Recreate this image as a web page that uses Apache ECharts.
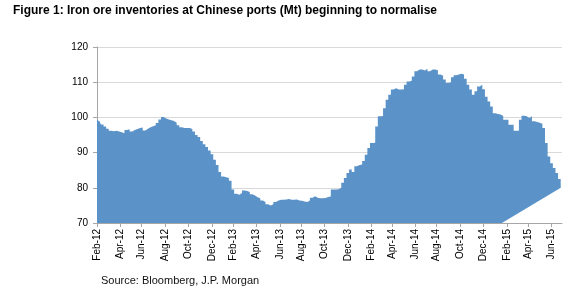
<!DOCTYPE html>
<html>
<head>
<meta charset="utf-8">
<script src="https://cdn.jsdelivr.net/npm/echarts@6/dist/echarts.min.js"></script>
<style>
  html, body { margin: 0; padding: 0; background: #fff; }
  #main { width: 580px; height: 298px; }
</style>
</head>
<body>
<div id="main"></div>
<script>
// weekly port inventory readings, first week of Feb 2012 onwards (Mt)
var startDate = new Date(2012, 1, 3);
var stocks = [
  99.3, 98.8, 98.0, 97.4, 96.8, 96.2, 96.1, 96.2, 96.0, 95.8,
  95.5, 96.4, 96.6, 96.0, 96.4, 96.7, 97.0, 97.1, 96.3, 96.8,
  97.2, 97.5, 97.8, 98.4, 99.4, 100.1, 99.7, 99.4, 99.2, 99.0,
  98.5, 97.8, 97.2, 97.0, 97.0, 97.0, 96.7, 96.0, 95.0, 94.4,
  93.3, 92.4, 91.6, 90.6, 89.5, 88.0, 86.5, 84.5, 83.2, 83.0,
  82.8, 82.0, 79.5, 78.3, 78.0, 78.5, 79.2, 79.1, 78.8, 78.2,
  77.8, 77.3, 77.0, 76.4, 76.0, 75.3, 75.0, 75.3, 76.0, 76.4,
  76.6, 76.6, 76.7, 76.8, 76.6, 76.6, 76.7, 76.4, 76.3, 76.1,
  76.0, 76.4, 77.2, 77.6, 77.2, 77.0, 77.0, 77.1, 77.4, 77.5,
  79.5, 79.5, 79.6, 80.0, 81.4, 82.8, 84.2, 85.2, 84.5, 86.1,
  86.5, 86.6, 87.6, 89.4, 91.3, 92.7, 92.8, 97.4, 100.3, 100.4,
  102.6, 105.0, 106.4, 107.9, 108.3, 107.9, 107.9, 108.0, 109.3, 110.2,
  110.4, 111.6, 113.1, 113.6, 113.6, 113.3, 113.8, 113.1, 113.6, 113.6,
  113.4, 112.2, 111.8, 110.8, 109.8, 110.0, 111.4, 112.0, 112.2, 112.4,
  112.2, 111.0, 109.3, 107.9, 106.4, 107.4, 108.8, 109.3, 108.0, 105.9,
  104.5, 103.1, 101.2, 101.0, 100.8, 100.4, 99.3, 99.3, 97.9, 97.9,
  96.2, 96.2, 99.3, 100.5, 100.3, 99.8, 100.3, 98.9, 98.7, 98.5,
  98.2, 97.0, 92.7, 88.9, 87.0, 85.6, 84.2, 82.5, 80.9
];
// white wedge in the bottom right corner of the original
var wedgeX = [155, 178];
var wedgeY = [70, 80.2];
var yTicks = [70, 80, 90, 100, 110, 120];

var months = ['Jan','Feb','Mar','Apr','May','Jun','Jul','Aug','Sep','Oct','Nov','Dec'];
var weeks = [];
var dates = [];
for (var i = 0; i < stocks.length; i++) {
  var d = new Date(startDate.getTime() + i * 7 * 86400000);
  dates.push(d);
  weeks.push(months[d.getMonth()] + '-' + String(d.getFullYear()).slice(2));
}
function isTick(index) {
  var d = dates[index];
  return d.getMonth() % 2 === 1 && d.getDate() <= 7;
}

var font = '"Liberation Sans", Arial, sans-serif';
var chart = echarts.init(document.getElementById('main'), null, { renderer: 'canvas' });
var option = {
  animation: false,
  backgroundColor: '#fff',
  title: [
    {
      text: 'Figure 1: Iron ore inventories at Chinese ports (Mt) beginning to normalise',
      left: 13, top: 5, padding: 0,
      textStyle: { fontFamily: font, fontSize: 12, fontWeight: 'bold', color: '#000' }
    },
    {
      text: 'Source: Bloomberg, J.P. Morgan',
      left: 101, top: 275, padding: 0,
      textStyle: { fontFamily: font, fontSize: 11, fontWeight: 'normal', color: '#111' }
    }
  ],
  grid: { left: 97, right: 18, top: 47, bottom: 75 },
  xAxis: {
    type: 'category',
    data: weeks,
    boundaryGap: false,
    axisLine: { lineStyle: { color: '#a6a6a6', width: 1 } },
    axisTick: {
      interval: function (index) { return isTick(index); },
      length: 4,
      lineStyle: { color: '#a6a6a6' }
    },
    axisLabel: {
      interval: function (index) { return isTick(index); },
      rotate: 90,
      margin: 6,
      fontFamily: font,
      fontSize: 10,
      color: '#000'
    },
    splitLine: { show: false }
  },
  yAxis: {
    type: 'value',
    min: yTicks[0],
    max: yTicks[yTicks.length - 1],
    interval: 10,
    axisLine: { show: true, lineStyle: { color: '#a6a6a6', width: 1 } },
    axisTick: { show: true, length: 4, lineStyle: { color: '#a6a6a6' } },
    axisLabel: { margin: 9, fontFamily: font, fontSize: 10, color: '#000' },
    splitLine: { lineStyle: { color: '#d9d9d9', width: 1 } }
  },
  series: [
    {
      name: 'Inventories',
      type: 'line',
      step: 'middle',
      data: stocks,
      symbol: 'none',
      lineStyle: { width: 0 },
      areaStyle: { color: '#5b93c9', opacity: 1, origin: 'start' }
    },
    {
      name: 'wedge',
      type: 'line',
      data: wedgeX.map(function (x, k) { return [x, wedgeY[k]]; }),
      symbol: 'none',
      lineStyle: { width: 0 },
      areaStyle: { color: '#fff', opacity: 1, origin: 'start' }
    }
  ]
};
chart.setOption(option);
</script>
</body>
</html>
